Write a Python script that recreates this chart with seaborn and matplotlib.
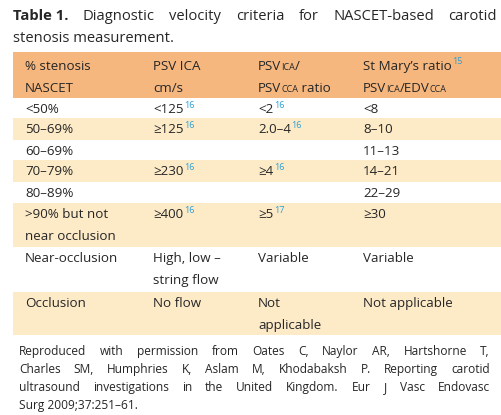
import matplotlib
matplotlib.use("Agg")
import matplotlib.pyplot as plt
import seaborn as sns

sns.set_style("white")
plt.rcParams['font.family'] = ['Open Sans', 'DejaVu Sans']

HEAD_BG = "#F6B77F"
ROW_BG = "#FDEBC8"
REF_BLUE = "#2A9FD6"

# header cells: each a list of lines, each line a list of (text, kind)
header = [
    [[("% stenosis", "n")], [("NASCET", "n")]],
    [[("PSV ICA", "n")], [("cm/s", "n")]],
    [[("PSV", "n"), ("ICA", "sub"), ("/", "n")], [("PSV", "n"), ("CCA", "sub"), (" ratio", "n")]],
    [[("St Mary’s ratio", "n"), ("15", "sup")],
     [("PSV", "n"), ("ICA", "sub"), ("/EDV", "n"), ("CCA", "sub")]],
]

stenosis = [["<50%"], ["50–69%"], ["60–69%"], ["70–79%"], ["80–89%"],
            [">90% but not", "near occlusion"], ["Near-occlusion"], ["Occlusion"]]
psv_ica = [[("<125", "16")], [("≥125", "16")], [], [("≥230", "16")], [],
           [("≥400", "16")], [("High, low –", None), ("string flow", None)], [("No flow", None)]]
psv_ratio = [[("<2", "16")], [("2.0–4", "16")], [], [("≥4", "16")], [],
             [("≥5", "17")], [("Variable", None)], [("Not", None), ("applicable", None)]]
st_mary = [["<8"], ["8–10"], ["11–13"], ["14–21"], ["22–29"], ["≥30"], ["Variable"], ["Not applicable"]]
shaded = [False, True, False, True, False, True, False, True]
row_edges = [98, 118, 140, 160, 182, 203, 247, 292, 335]

title_lines = [["Table 1.", "Diagnostic", "velocity", "criteria", "for", "NASCET-based", "carotid"],
               ["stenosis measurement."]]
footer_lines = [
    "Reproduced with permission from Oates C, Naylor AR, Hartshorne T,",
    "Charles SM, Humphries K, Aslam M, Khodabaksh P. Reporting carotid",
    "ultrasound investigations in the United Kingdom. Eur J Vasc Endovasc",
    "Surg 2009;37:251–61.",
]

fig = plt.figure(figsize=(5.02, 4.15), dpi=100)
ax = fig.add_axes([0, 0, 1, 1])
ax.set_xlim(0, 502)
ax.set_ylim(415, 0)
ax.axis("off")
fig.canvas.draw()
rend = fig.canvas.get_renderer()

FS = 9.6


def width(t):
    return t.get_window_extent(rend).width


col_x = [25, 153, 258, 363]


def runs(x, y, parts, size=FS):
    prev = None
    for txt, kind in parts:
        if prev is None:
            prev = ax.text(x, y, txt, fontsize=size, va="baseline")
        elif kind == "sub":
            prev = ax.annotate(txt, xy=(1, 0), xycoords=prev, xytext=(0, 1), textcoords="offset points",
                               fontsize=size * 0.68, va="bottom", ha="left")
        elif kind == "sup":
            prev = ax.annotate(txt, xy=(1, 0.5), xycoords=prev, xytext=(0.5, 0), textcoords="offset points",
                               fontsize=size * 0.68, va="bottom", ha="left", color=REF_BLUE)
        else:
            prev = ax.annotate(txt, xy=(1, 0), xycoords=prev, xytext=(0, -1), textcoords="offset points",
                               fontsize=size, va="bottom", ha="left")


def justify(words, left, right, y, size, bold_first=False):
    ts = []
    for i, w in enumerate(words):
        ts.append(ax.text(left, y, w, fontsize=size, va="baseline",
                          fontweight="bold" if (bold_first and i == 0) else "normal"))
    ws = [width(t) for t in ts]
    gap = (right - left - sum(ws)) / max(len(ws) - 1, 1)
    x = left
    for t, w in zip(ts, ws):
        t.set_x(x)
        x += w + gap


# title
justify(title_lines[0], 13, 497, 20, 10.6, bold_first=True)
ax.text(13, 42, title_lines[1][0], fontsize=10.6, va="baseline")

# backgrounds
ax.axhspan(52, 98, xmin=13 / 502, xmax=1, color=HEAD_BG, lw=0)
for i, s in enumerate(shaded):
    if s:
        ax.axhspan(row_edges[i], row_edges[i + 1], xmin=13 / 502, xmax=1, color=ROW_BG, lw=0)

# header
for c, cell in enumerate(header):
    for li, line in enumerate(cell):
        runs(col_x[c], 70 + li * 22, line)

# body
for i in range(len(stenosis)):
    y0 = row_edges[i] + 15
    for li, s in enumerate(stenosis[i]):
        runs(col_x[0], y0 + li * 22, [(s, "n")])
    for col, data in ((1, psv_ica), (2, psv_ratio)):
        for li, (s, ref) in enumerate(data[i]):
            parts = [(s, "n")] + ([(ref, "sup")] if ref else [])
            runs(col_x[col], y0 + li * 22, parts)
    runs(col_x[3], y0, [(st_mary[i][0], "n")])

# footer
for li, line in enumerate(footer_lines):
    y = 355 + li * 18
    if li < len(footer_lines) - 1:
        justify(line.split(" "), 19, 490, y, 8.6)
    else:
        ax.text(19, y, line, fontsize=8.6, va="baseline")

fig.savefig("out.png", dpi=100)
